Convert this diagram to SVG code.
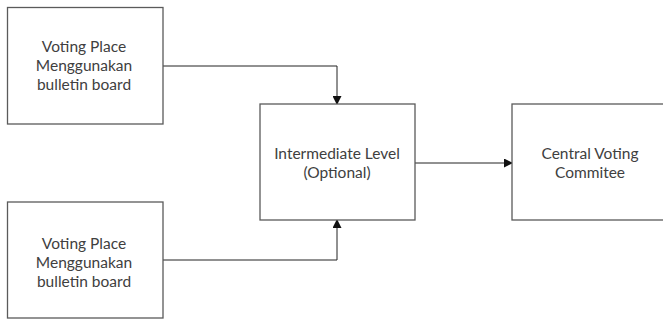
<svg xmlns="http://www.w3.org/2000/svg" width="663" height="320" viewBox="0 0 663 320">
<style>
.box{fill:#fff;stroke:#5a5a5a;stroke-width:1.3}
.t{font-family:Lato,"Open Sans","Liberation Sans",sans-serif;font-size:15.5px;fill:#404040;text-anchor:middle}
.c{fill:none;stroke:#222;stroke-width:1}
</style>
<defs>
<marker id="ah" markerWidth="9" markerHeight="9" refX="8" refY="4.5" orient="auto" markerUnits="userSpaceOnUse">
<path d="M0,0 L9,4.5 L0,9 Z" fill="#111"/>
</marker>
</defs>
<rect width="663" height="320" fill="#fff"/>
<g id="connectors">
<path class="c" d="M163,66 H337 V104" marker-end="url(#ah)"/>
<path class="c" d="M163,260 H337 V220" marker-end="url(#ah)"/>
<path class="c" d="M415,163 H512" marker-end="url(#ah)"/>
</g>
<g id="vp1">
<rect class="box" x="7.5" y="7.5" width="155.5" height="116.5"/>
<text class="t" x="84" y="52">Voting Place</text>
<text class="t" x="84" y="71">Menggunakan</text>
<text class="t" x="84" y="90">bulletin board</text>
</g>
<g id="vp2">
<rect class="box" x="7.5" y="202" width="155.5" height="116"/>
<text class="t" x="84" y="249">Voting Place</text>
<text class="t" x="84" y="268">Menggunakan</text>
<text class="t" x="84" y="287">bulletin board</text>
</g>
<g id="intermediate">
<rect class="box" x="260" y="104" width="155" height="116"/>
<text class="t" x="337" y="159">Intermediate Level</text>
<text class="t" x="337" y="178">(Optional)</text>
</g>
<g id="central">
<rect class="box" x="512" y="104" width="160" height="116"/>
<text class="t" x="590" y="159">Central Voting</text>
<text class="t" x="590" y="178">Commitee</text>
</g>
</svg>
